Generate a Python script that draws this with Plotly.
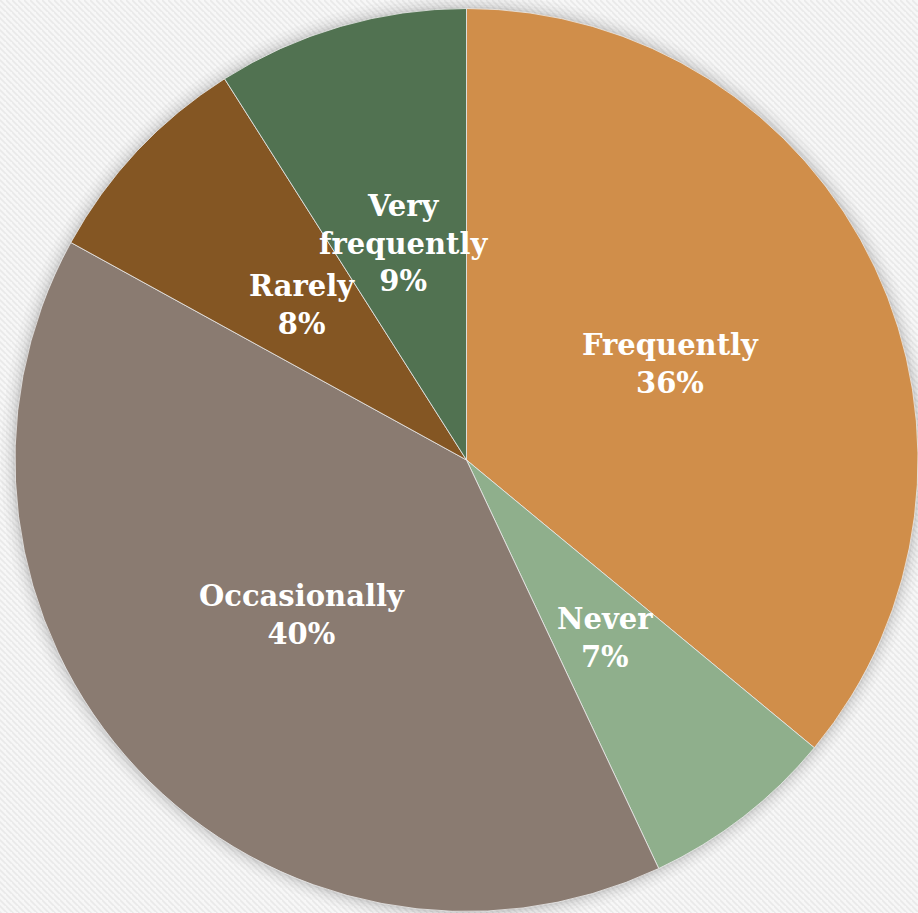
import math
import urllib.parse
import plotly.graph_objects as go

# Survey responses: how often the activity is done (share of respondents, %)
categories = ["Frequently", "Never", "Occasionally", "Rarely", "Very frequently"]
shares = [36, 7, 40, 8, 9]
slice_colors = ["#D08E4A", "#8FAF8C", "#8A7B71", "#845623", "#517251"]
label_text = ["Frequently", "Never", "Occasionally", "Rarely", "Very<br>frequently"]

W, H = 918, 913

# Pie domain (paper fractions)
dom_x = [15 / W, 1.0]
dom_y = [1 / H, 905 / H]
R_px = min((dom_x[1] - dom_x[0]) * W, (dom_y[1] - dom_y[0]) * H) / 2
cx = (dom_x[0] + dom_x[1]) / 2
cy = (dom_y[0] + dom_y[1]) / 2

fig = go.Figure(
    go.Pie(
        labels=categories,
        values=shares,
        sort=False,
        direction="clockwise",
        rotation=0,
        marker=dict(colors=slice_colors, line=dict(color="rgba(235,235,235,0.8)", width=1)),
        textinfo="none",
        hoverinfo="label+percent",
        domain=dict(x=dom_x, y=dom_y),
        showlegend=False,
    )
)

# Labels centred at half radius on each slice's mid angle
total = sum(shares)
acc = 0
annotations = []
for name, txt, v in zip(categories, label_text, shares):
    mid = (acc + v / 2) / total * 2 * math.pi
    acc += v
    r = 0.5 * R_px
    x = cx + r * math.sin(mid) / W
    y = cy + r * math.cos(mid) / H
    annotations.append(
        dict(
            x=x, y=y, xref="paper", yref="paper",
            text=f"<b>{txt}<br>{v / total * 100:.0f}%</b>",
            showarrow=False, xanchor="center", yanchor="middle",
            font=dict(family="DejaVu Serif", size=29, color="white"),
        )
    )

# Soft shadow rings around the pie
shapes = []
for extra, alpha in [(14, 0.018), (10, 0.022), (7, 0.028), (4, 0.035), (2, 0.045)]:
    rr = R_px + extra
    shapes.append(
        dict(
            type="circle", xref="paper", yref="paper", layer="below",
            x0=cx - rr / W, x1=cx + rr / W, y0=cy - rr / H, y1=cy + rr / H,
            fillcolor=f"rgba(0,0,0,{alpha})", line=dict(width=0),
        )
    )

# Light diagonal woven texture for the background
svg = (
    f'<svg xmlns="http://www.w3.org/2000/svg" width="{W}" height="{H}" viewBox="0 0 {W} {H}">'
    '<defs><pattern id="p" width="6" height="6" patternUnits="userSpaceOnUse">'
    '<rect width="6" height="6" fill="#f7f7f7"/>'
    '<path d="M-1,-1 L7,7 M-4,2 L2,8 M4,-4 L10,2" stroke="#e9e9e9" stroke-width="1.6"/>'
    '</pattern></defs>'
    f'<rect width="{W}" height="{H}" fill="url(#p)"/></svg>'
)
bg_src = "data:image/svg+xml;charset=utf-8," + urllib.parse.quote(svg)

fig.update_layout(
    width=W,
    height=H,
    margin=dict(l=0, r=0, t=0, b=0),
    paper_bgcolor="#f5f5f5",
    plot_bgcolor="#f5f5f5",
    annotations=annotations,
    shapes=shapes,
    images=[
        dict(
            source=bg_src, xref="paper", yref="paper", x=0, y=1,
            sizex=1, sizey=1, xanchor="left", yanchor="top",
            sizing="stretch", layer="below",
        )
    ],
)

fig.write_html("out.html")
